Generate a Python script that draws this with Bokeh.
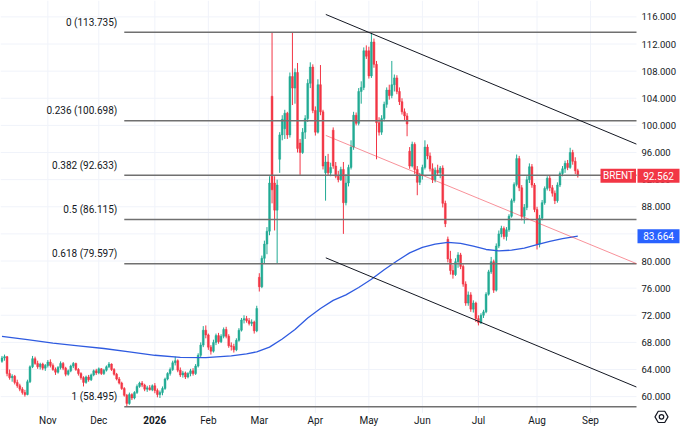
import pandas as pd
from bokeh.plotting import figure
from bokeh.models import Range1d, ColumnDataSource
from bokeh.embed import file_html
from bokeh.resources import INLINE
from bokeh.core.properties import value

# ---------------- data ----------------
holidays = ["2025-12-25", "2026-01-01", "2026-04-03"]
first_day, last_day = "2025-10-08", "2026-09-30"

opens = [
    # Oct
    65.2, 65.7, 65.9, 63.4, 62.8, 63.0, 62.1, 61.6, 61.1, 60.6, 60.3, 62.2, 64.4, 65.6, 64.9, 64.4, 64.8, 64.2,
    # Nov
    64.6, 65.1, 64.6, 64.0, 63.6, 64.3, 64.9, 64.2, 63.3, 63.8, 64.5, 64.9, 64.0, 63.4, 62.8, 62.1, 62.9, 62.5, 63.2, 63.8,
    # Dec
    63.5, 64.1, 63.4, 63.9, 64.4, 64.8, 64.0, 63.3, 62.6, 62.0, 61.2, 60.2, 59.0, 60.3, 59.8, 60.6, 61.5, 62.0, 61.7, 61.1, 61.3, 61.0,
    # Jan
    61.6, 60.9, 60.3, 60.6, 61.2, 62.6, 63.4, 64.0, 65.0, 65.3, 63.9, 63.2, 63.5, 62.9, 63.4, 63.8, 63.4, 64.5, 66.1, 67.6, 69.8,
    # Feb
    69.1, 67.3, 66.7, 68.0, 69.0, 68.1, 68.9, 69.9, 68.9, 67.5, 67.4, 66.9, 68.3, 69.8, 71.3, 71.5, 71.2, 70.8, 71.0, 69.7,
    # Mar
    77.6, 76.2, 80.4, 82.5, 84.4, 104.3, 91.5, 87.5, 95.0, 98.6, 99.5, 101.8, 98.6, 107.2, 105.5, 107.8, 97.4, 96.0, 99.0, 101.0, 106.2, 108.6,
    # Apr
    102.2, 99.0, 106.0, 102.0, 93.0, 94.6, 93.0, 99.3, 94.0, 92.5, 92.0, 93.5, 88.6, 91.5, 93.8, 96.8, 101.5, 100.3, 105.0, 105.6, 111.0,
    # May
    111.0, 107.3, 112.3, 109.0, 100.4, 99.0, 101.0, 103.1, 105.2, 104.4, 106.0, 107.0, 105.0, 103.5, 102.0, 101.4, 96.2, 94.0, 97.2, 93.5, 91.6,
    # Jun
    92.6, 93.8, 96.8, 95.5, 93.6, 92.0, 93.4, 93.0, 93.7, 88.5, 83.2, 80.3, 78.6, 78.0, 79.9, 80.9, 79.2, 76.6, 73.8, 75.0, 72.9, 73.8,
    # Jul
    71.5, 70.9, 72.0, 72.5, 75.1, 78.4, 79.9, 75.7, 82.2, 84.0, 84.8, 83.6, 84.6, 86.6, 88.9, 91.3, 95.1, 90.8, 86.6, 87.9, 92.0, 93.9, 91.2,
    # Aug
    87.6, 82.5, 86.3, 88.6, 90.7, 92.2, 90.8, 90.0, 88.9, 91.2, 92.9, 93.6, 94.4, 93.8, 96.0, 94.7, 93.3,
]
highs = [
    66.0, 66.2, 66.0, 64.0, 63.3, 63.2, 62.5, 61.9, 61.4, 61.0, 62.5, 64.6, 66.0, 65.9, 65.3, 65.0, 65.0, 64.8,
    65.4, 65.5, 64.9, 64.3, 64.5, 65.2, 65.1, 64.4, 64.0, 64.7, 65.1, 65.0, 64.2, 63.6, 63.0, 63.1, 63.2, 63.4, 64.0, 64.1,
    64.3, 64.2, 64.1, 64.6, 65.1, 64.9, 64.2, 63.5, 62.9, 62.2, 61.4, 60.4, 60.6, 60.5, 60.8, 61.8, 62.2, 62.3, 61.9, 61.6, 61.7, 61.8,
    62.0, 61.2, 60.9, 61.5, 62.8, 63.6, 64.3, 65.3, 65.9, 65.5, 64.3, 63.8, 63.7, 63.6, 64.1, 64.2, 64.8, 66.4, 68.0, 70.4, 70.5,
    69.3, 67.6, 68.4, 69.3, 69.4, 69.2, 70.2, 70.3, 69.2, 68.0, 67.8, 68.6, 70.1, 71.6, 72.0, 71.9, 71.6, 71.4, 71.2, 73.4,
    78.2, 80.8, 83.0, 85.0, 92.5, 113.735, 92.5, 92.0, 99.0, 101.5, 102.3, 102.0, 107.8, 113.735, 108.4, 109.2, 98.0, 99.6, 101.5, 106.8, 109.3, 109.0,
    102.8, 106.8, 108.9, 102.3, 95.5, 95.8, 94.5, 99.7, 94.6, 93.3, 93.9, 94.6, 92.8, 94.2, 97.8, 102.0, 101.9, 105.5, 106.5, 111.5, 111.8,
    111.6, 113.6, 112.8, 109.5, 101.2, 101.5, 103.5, 105.6, 106.0, 109.5, 107.5, 107.4, 105.6, 104.0, 102.5, 101.8, 96.8, 97.6, 97.5, 94.0, 93.0,
    94.2, 97.8, 97.2, 96.0, 94.4, 93.8, 94.2, 94.0, 94.1, 88.9, 83.6, 81.5, 79.4, 80.4, 81.3, 81.2, 79.5, 77.0, 75.5, 75.4, 74.2, 74.0,
    72.0, 72.3, 72.8, 75.4, 78.7, 80.6, 80.2, 82.6, 84.5, 85.2, 85.1, 85.0, 86.9, 89.2, 91.6, 95.7, 95.5, 91.2, 88.4, 92.5, 94.4, 94.3, 91.5,
    88.0, 86.8, 89.0, 91.0, 92.5, 92.6, 91.2, 90.4, 91.6, 93.2, 94.0, 94.8, 94.9, 96.7, 96.4, 95.3, 93.6,
]
lows = [
    65.0, 65.3, 63.0, 62.5, 62.2, 61.8, 61.3, 60.8, 60.3, 60.0, 60.2, 62.0, 64.2, 64.7, 64.1, 64.0, 63.9, 63.8,
    64.3, 64.3, 63.8, 63.2, 63.4, 64.0, 63.9, 63.0, 63.1, 63.6, 64.2, 63.8, 63.1, 62.5, 61.5, 61.9, 62.2, 62.3, 63.0, 63.2,
    63.3, 63.2, 63.2, 63.7, 64.2, 63.8, 63.1, 62.4, 61.8, 61.0, 60.0, 58.495, 58.8, 59.5, 59.6, 60.4, 61.3, 61.4, 60.8, 60.7, 60.9, 60.8,
    60.5, 59.9, 59.8, 60.2, 61.0, 62.4, 63.1, 63.8, 64.6, 63.6, 62.9, 62.8, 62.6, 62.7, 63.0, 63.1, 63.2, 64.3, 65.8, 67.3, 68.6,
    66.9, 66.2, 66.5, 67.6, 67.8, 67.9, 68.6, 68.6, 67.2, 66.8, 66.5, 66.7, 68.1, 69.6, 70.8, 70.9, 70.5, 70.4, 69.3, 69.5,
    75.5, 76.0, 79.6, 81.0, 83.8, 88.5, 84.5, 79.6, 93.0, 97.8, 98.0, 98.0, 98.2, 103.0, 103.2, 96.0, 92.7, 95.8, 98.0, 100.5, 105.5, 101.8,
    98.5, 98.8, 101.5, 93.5, 88.9, 92.6, 92.5, 93.6, 92.2, 91.6, 91.8, 84.0, 88.2, 91.0, 93.5, 96.4, 100.0, 100.0, 103.2, 105.2, 109.8,
    106.9, 107.0, 108.5, 95.0, 98.5, 98.6, 100.6, 102.6, 103.8, 104.0, 105.0, 104.6, 103.0, 101.6, 100.8, 98.4, 93.6, 93.8, 92.8, 89.7, 91.2,
    92.0, 93.5, 95.0, 93.2, 91.5, 91.6, 92.6, 92.2, 87.9, 85.0, 79.8, 78.0, 77.4, 77.8, 79.0, 78.8, 76.2, 73.4, 73.4, 72.5, 72.4, 71.0,
    70.5, 70.7, 71.6, 72.3, 74.9, 78.1, 75.3, 75.5, 81.9, 83.5, 83.2, 83.0, 84.3, 86.4, 88.6, 91.0, 90.3, 86.0, 85.5, 87.5, 91.5, 90.8, 87.2,
    81.7, 82.0, 86.0, 88.3, 90.4, 90.3, 89.5, 88.4, 88.6, 90.9, 92.5, 93.0, 93.4, 93.6, 94.2, 92.8, 92.3,
]
closes = [
    65.7, 65.9, 63.4, 62.8, 63.0, 62.1, 61.6, 61.1, 60.6, 60.3, 62.2, 64.4, 65.6, 64.9, 64.4, 64.8, 64.2, 64.6,
    65.1, 64.6, 64.0, 63.6, 64.3, 64.9, 64.2, 63.3, 63.8, 64.5, 64.9, 64.0, 63.4, 62.8, 62.1, 62.9, 62.5, 63.2, 63.8, 63.5,
    64.1, 63.4, 63.9, 64.4, 64.8, 64.0, 63.3, 62.6, 62.0, 61.2, 60.2, 59.0, 60.3, 59.8, 60.6, 61.5, 62.0, 61.7, 61.1, 61.3, 61.0, 61.6,
    60.9, 60.3, 60.6, 61.2, 62.6, 63.4, 64.0, 65.0, 65.3, 63.9, 63.2, 63.5, 62.9, 63.4, 63.8, 63.4, 64.5, 66.1, 67.6, 69.8, 69.1,
    67.3, 66.7, 68.0, 69.0, 68.1, 68.9, 69.9, 68.9, 67.5, 67.4, 66.9, 68.3, 69.8, 71.3, 71.5, 71.2, 70.8, 71.0, 69.7, 73.0,
    76.2, 80.4, 82.5, 84.4, 91.5, 90.5, 87.5, 91.2, 98.6, 100.9, 101.8, 98.6, 107.2, 105.5, 107.8, 96.6, 96.0, 99.0, 101.0, 106.2, 108.6, 102.2,
    99.0, 106.0, 102.0, 94.0, 94.6, 93.0, 93.8, 94.0, 92.5, 92.0, 93.5, 88.6, 91.5, 93.8, 96.8, 101.5, 100.3, 105.0, 105.6, 111.0, 110.2,
    107.3, 112.3, 109.0, 100.4, 99.0, 101.0, 103.1, 105.2, 104.4, 106.0, 107.0, 105.0, 103.5, 102.0, 101.4, 100.2, 94.0, 97.2, 93.5, 91.6, 92.6,
    93.8, 96.8, 95.5, 93.6, 92.0, 93.4, 93.0, 93.7, 88.5, 85.5, 80.3, 78.6, 78.0, 79.9, 80.9, 79.2, 76.6, 73.8, 75.0, 72.9, 73.8, 71.5,
    70.9, 72.0, 72.5, 75.1, 78.4, 79.9, 75.7, 82.2, 84.0, 84.8, 83.6, 84.6, 86.6, 88.9, 91.3, 95.1, 90.8, 86.6, 87.9, 92.0, 93.9, 91.2, 87.6,
    82.5, 86.3, 88.6, 90.7, 92.2, 90.8, 90.0, 88.9, 91.2, 92.9, 93.6, 94.4, 93.8, 96.0, 94.7, 93.3, 92.562,
]

# moving average (read at sampled bars)
ma_bars = [0, 10, 20, 30, 40, 50, 60, 70, 80, 90, 96, 100, 105, 110, 115, 120, 125, 130, 135,
           140, 145, 150, 155, 160, 165, 170, 175, 180, 185, 190, 195, 200, 205, 210, 215, 220, 226]
ma_values = [68.9, 68.4, 67.9, 67.5, 67.1, 66.6, 66.1, 65.8, 65.75, 66.0, 66.3, 66.6, 67.3, 68.5, 69.9, 71.6, 73.0, 74.2, 75.0,
             76.1, 77.3, 78.7, 80.0, 81.2, 82.0, 82.5, 82.75, 82.6, 82.2, 81.7, 81.5, 81.6, 81.9, 82.4, 82.9, 83.3, 83.664]

# Fibonacci retracement
fib_levels = ["0", "0.236", "0.382", "0.5", "0.618", "1"]
fib_values = [113.735, 100.698, 92.633, 86.115, 79.597, 58.495]

# trend channel anchors (bar index, price)
upper_x, upper_y = [127.1, 249.0], [116.36, 97.24]
middle_x, middle_y = [127.1, 249.0], [98.52, 79.62]
lower_x, lower_y = [127.1, 249.0], [80.47, 61.42]

price_ticks = [60, 64, 68, 72, 76, 80, 84, 88, 92, 96, 100, 104, 108, 112, 116]
month_labels = ["Nov", "Dec", "2026", "Feb", "Mar", "Apr", "May", "Jun", "Jul", "Aug", "Sep"]
year_label = "2026"
symbol = "BRENT"

# ---------------- calendar ----------------
cal = pd.bdate_range(first_day, last_day)
cal = cal[~cal.isin(pd.to_datetime(holidays))]
month_ticks = [i for i in range(1, len(cal)) if cal[i].month != cal[i - 1].month]

n = len(closes)
bars = list(range(n))

# ---------------- style / geometry ----------------
UP, DOWN, BLUE = "#22ab94", "#f23645", "#2962ff"
TXT = "#131722"
GRID = "#f0f3fa"
FONT = "Roboto"

W, H = 680, 426
PANE_PX = 636                              # width of the price pane on screen
BAR_PX, UNIT_PX = 2.6, 7.036               # reference scale (px per bar, px per price unit)
SX = PANE_PX / 649.0
OUR_BAR_PX = BAR_PX * SX
X0 = -1.5 / BAR_PX
X1 = X0 + W / OUR_BAR_PX
Y1 = 116 + 17 / UNIT_PX
Y0 = 116 - (442 - 17) / UNIT_PX
OUR_UNIT_PX = H / (Y1 - Y0)
pane_end = (649 - 1.5) / BAR_PX
pane_bottom = 116 - (428 - 17) / UNIT_PX
fib_start = 48
dx = 1 / OUR_BAR_PX                        # one screen pixel in bar units
dy = 1 / OUR_UNIT_PX                       # one screen pixel in price units

p = figure(width=W, height=H, x_range=Range1d(X0, X1), y_range=Range1d(Y0, Y1),
           output_backend="svg", toolbar_location=None,
           x_axis_location=None, y_axis_location=None,
           min_border=0, min_border_left=0, min_border_right=0, min_border_top=0, min_border_bottom=0,
           background_fill_color="white", border_fill_color="white", outline_line_color=None)
p.grid.visible = False

# grid
p.segment(x0=[X0] * len(price_ticks), y0=price_ticks, x1=[pane_end] * len(price_ticks), y1=price_ticks,
          line_color=GRID, line_width=1)
p.segment(x0=month_ticks, y0=[pane_bottom] * len(month_ticks), x1=month_ticks, y1=[Y1] * len(month_ticks),
          line_color=GRID, line_width=1)

# candles
src = ColumnDataSource(dict(
    x=bars, h=highs[:n], l=lows[:n],
    top=[max(a, b) for a, b in zip(opens, closes)],
    bot=[min(a, b) for a, b in zip(opens, closes)],
    col=[UP if c >= o else DOWN for o, c in zip(opens, closes)],
))
p.segment(x0="x", y0="h", x1="x", y1="l", source=src, line_color="col", line_width=1)
p.vbar(x="x", width=0.72, top="top", bottom="bot", source=src, fill_color="col", line_color="col", line_width=0.5)

# moving average
p.line(ma_bars, ma_values, line_color="#2f5be0", line_width=1.3)

# fibonacci lines & labels
nf = len(fib_values)
p.segment(x0=[fib_start] * nf, y0=fib_values, x1=[pane_end] * nf, y1=fib_values,
          line_color="#707070", line_width=1.5)
p.text(x=[fib_start] * nf, y=fib_values,
       text=[f"{lv} ({v:.3f})" for lv, v in zip(fib_levels, fib_values)],
       x_offset=-7, y_offset=-10, text_align="right", text_baseline="middle",
       text_font=value(FONT), text_font_size="10px", text_color=TXT)

# channel
p.line(upper_x, upper_y, line_color=TXT, line_width=1)
p.line(lower_x, lower_y, line_color=TXT, line_width=1)
p.line(middle_x, middle_y, line_color=DOWN, line_alpha=0.55, line_width=1)

# price scale labels
p.text(x=[pane_end] * len(price_ticks), y=price_ticks, text=[f"{t:.3f}" for t in price_ticks],
       x_offset=5, text_align="left", text_baseline="middle",
       text_font=value(FONT), text_font_size="9.5px", text_color=TXT)

# time scale labels
norm = [(t, lab) for t, lab in zip(month_ticks, month_labels) if lab != year_label]
yr = [(t, lab) for t, lab in zip(month_ticks, month_labels) if lab == year_label]
p.text(x=[t for t, _ in norm], y=[pane_bottom] * len(norm), text=[lab for _, lab in norm],
       y_offset=7, text_align="center", text_baseline="middle",
       text_font=value(FONT), text_font_size="10px", text_color=TXT)
p.text(x=[t for t, _ in yr], y=[pane_bottom] * len(yr), text=[lab for _, lab in yr],
       y_offset=7, text_align="center", text_baseline="middle",
       text_font=value(FONT), text_font_size="10px", text_font_style="bold", text_color=TXT)

# price tags
last_close = closes[-1]
last_ma = ma_values[-1]
tag_h = 7 * dy
tag_right = X1 - 1 * dx
name_left = pane_end - 36 * dx
price_left = pane_end + 1 * dx
p.quad(left=[name_left], right=[pane_end - 0.5 * dx], bottom=[last_close - tag_h], top=[last_close + tag_h],
       fill_color=DOWN, line_color=None)
p.quad(left=[price_left, price_left], right=[tag_right, tag_right],
       bottom=[last_close - tag_h, last_ma - tag_h], top=[last_close + tag_h, last_ma + tag_h],
       fill_color=[DOWN, BLUE], line_color=None)
p.text(x=[(name_left + pane_end) / 2, (price_left + tag_right) / 2, (price_left + tag_right) / 2],
       y=[last_close, last_close, last_ma],
       text=[symbol, f"{last_close:.3f}", f"{last_ma:.3f}"],
       text_align="center", text_baseline="middle",
       text_font=value(FONT), text_font_size="10px", text_color="white")

# settings icon in the corner
gear_x = X0 + 661 * dx
gear_y = 116 - (432 - 17) / UNIT_PX
p.scatter(x=[gear_x], y=[gear_y], marker="hex", size=13, fill_color=None, line_color=TXT, line_width=1.2)
p.scatter(x=[gear_x], y=[gear_y], marker="circle", size=4.5, fill_color=None, line_color=TXT, line_width=1.2)

open("out.html", "w").write(file_html(p, INLINE))
